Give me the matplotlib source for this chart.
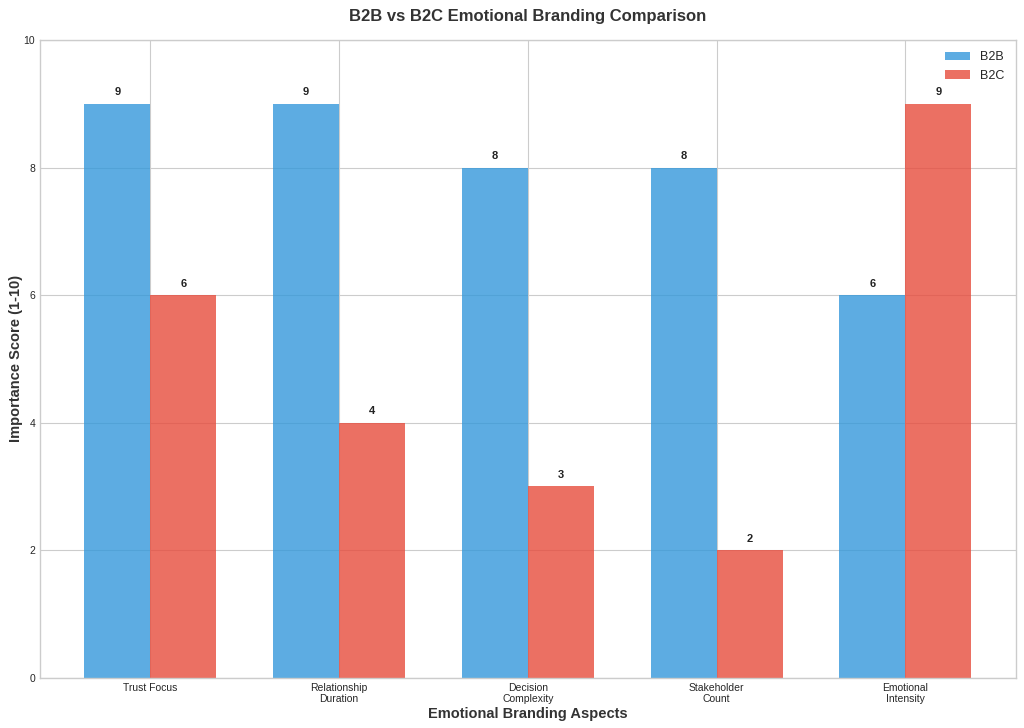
import numpy as np
import matplotlib
matplotlib.use("Agg")
import matplotlib.pyplot as plt

plt.style.use("seaborn-v0_8-whitegrid")
plt.rcParams['font.family'] = ['Liberation Sans', 'DejaVu Sans']

categories = ["Trust Focus", "Relationship\nDuration", "Decision\nComplexity",
              "Stakeholder\nCount", "Emotional\nIntensity"]
b2b = [9, 9, 8, 8, 6]
b2c = [6, 4, 3, 2, 9]

x = np.arange(len(categories))
width = 0.35

fig, ax = plt.subplots(figsize=(10.24, 7.28), dpi=100)
fig.subplots_adjust(left=0.039, right=0.992, top=0.945, bottom=0.069)
bars1 = ax.bar(x - width/2, b2b, width, label="B2B", color="#3498db", alpha=0.8)
bars2 = ax.bar(x + width/2, b2c, width, label="B2C", color="#e74c3c", alpha=0.8)

for bars in (bars1, bars2):
    for b in bars:
        h = b.get_height()
        ax.text(b.get_x() + b.get_width()/2, h + 0.1, f"{int(h)}",
                ha="center", va="bottom", fontsize=8, fontweight="bold", color="#222222")

ax.set_ylim(0, 10)
ax.set_xticks(x)
ax.set_xticklabels(categories, fontsize=7.5, linespacing=1.2)
ax.tick_params(axis="y", labelsize=7.5)
ax.set_xlabel("Emotional Branding Aspects", fontsize=10.5, fontweight="bold",
              color="#333333", labelpad=2)
ax.set_ylabel("Importance Score (1-10)", fontsize=10.5, fontweight="bold",
              color="#333333", labelpad=0)
ax.set_title("B2B vs B2C Emotional Branding Comparison", fontsize=12, fontweight="bold",
             pad=14, color="#333333")
for s in ax.spines.values():
    s.set_visible(True)
    s.set_color("#cccccc")
ax.legend(loc="upper right", fontsize=9)

plt.savefig("out.png", dpi=100)
